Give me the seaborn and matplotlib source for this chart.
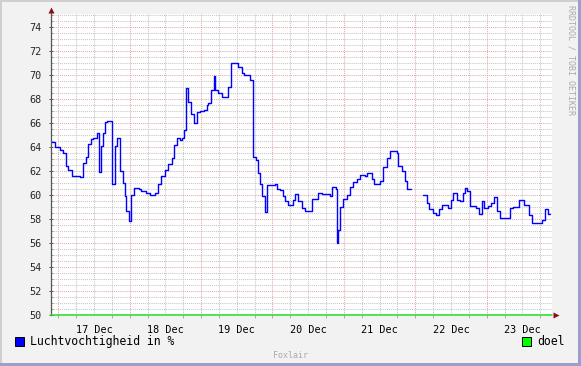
import matplotlib
matplotlib.use("Agg")
import matplotlib.pyplot as plt
from matplotlib.patches import Rectangle
from matplotlib.ticker import FixedLocator, MultipleLocator
import numpy as np
import pandas as pd
import seaborn as sns

# ---- data (hours since 17 Dec 00:00, relative humidity %) ----
hours_a = [-2.1, -1.1, 0.6, 1.7, 2.6, 3.3, 4.6, 7.3, 8.3, 9.3, 10.0, 11.0, 11.7, 13.0, 13.7,
           14.4, 15.0, 15.7, 16.5, 18.0, 18.9, 19.9, 20.7, 21.7, 22.3, 22.9, 23.6, 24.4, 25.4,
           27.1, 27.8, 29.5, 30.8, 32.5, 33.5, 34.5, 35.9, 36.9, 38.2, 38.9, 39.9, 40.9, 41.6,
           42.3, 42.9, 43.6, 44.6, 45.6, 46.6, 47.6, 49.0, 50.0, 50.3, 51.3, 52.5, 52.8, 53.7,
           55.0, 57.0, 58.2, 60.4, 61.7, 62.4, 64.4, 65.4, 66.5, 67.1, 67.8, 68.5, 69.6, 70.3,
           72.8, 73.5, 74.5, 75.5, 76.2, 77.2, 78.8, 79.6, 80.6, 81.8, 82.9, 85.2, 87.3, 88.6,
           91.3, 92.0, 93.2, 93.6, 94.1, 94.7, 95.8, 96.9, 98.0, 99.1, 100.3, 101.4, 103.1,
           103.8, 105.3, 106.1, 108.1, 109.1, 110.4, 111.5, 113.7, 114.3, 115.4, 116.5, 117.2,
           118.5]
humid_a = [64.4, 64.0, 63.8, 63.5, 62.4, 62.1, 61.6, 61.5, 62.7, 63.2, 64.3, 64.7, 64.8, 65.2, 61.9,
           64.1, 65.2, 66.1, 66.2, 60.9, 64.1, 64.8, 62.0, 61.0, 59.9, 58.7, 57.8, 60.0, 60.6,
           60.5, 60.3, 60.2, 60.0, 60.2, 60.9, 61.6, 62.1, 62.6, 63.1, 64.2, 64.8, 64.6, 64.8,
           65.4, 68.9, 67.8, 66.8, 66.0, 66.9, 67.0, 67.1, 67.5, 67.7, 68.8, 69.9, 68.8, 68.5,
           68.2, 69.0, 71.0, 70.7, 70.2, 70.0, 69.6, 63.2, 62.9, 61.8, 60.9, 59.9, 58.6, 60.8,
           60.9, 60.5, 60.4, 59.9, 59.5, 59.2, 59.6, 60.1, 59.5, 58.9, 58.7, 59.7, 60.2, 60.1,
           59.9, 60.7, 60.5, 56.0, 57.1, 59.0, 59.7, 60.0, 60.7, 61.1, 61.3, 61.7, 61.6,
           61.8, 61.3, 60.9, 61.2, 62.3, 63.1, 63.7, 63.5, 62.4, 62.0, 61.2, 60.5,
           60.5]
hours_b = [122.7, 123.8, 124.7, 125.8, 127.0, 128.1, 128.9, 131.1, 131.9, 132.8, 133.9, 135.0,
           135.9, 136.7, 137.5, 138.4, 140.4, 141.5, 142.3, 143.2, 144.3, 145.3, 146.5, 147.4,
           148.5, 151.8, 152.8, 155.0, 156.5, 158.3, 159.1, 162.5, 163.6, 164.7, 165.3]
humid_b = [60.0, 59.3, 58.8, 58.5, 58.3, 58.8, 59.2, 58.9, 59.6, 60.2, 59.6, 59.5,
           60.2, 60.6, 60.3, 59.1, 58.9, 58.4, 59.5, 58.9, 59.1, 59.3, 59.8, 58.7,
           58.1, 58.9, 59.0, 59.6, 59.2, 58.3, 57.7, 57.9, 58.8, 58.4, 58.4]
doel_value = 50.0
day_labels = ["17 Dec", "18 Dec", "19 Dec", "20 Dec", "21 Dec", "22 Dec", "23 Dec"]
y_ticks = list(range(50, 75, 2))

df = pd.DataFrame({
    "uur": hours_a + hours_b,
    "rh": humid_a + humid_b,
    "seg": ["a"] * len(hours_a) + ["b"] * len(hours_b),
})

sns.set_theme(style="white")
plt.rcParams["font.family"] = ["DejaVu Sans Mono", "DejaVu Sans"]

W, H = 581, 366
fig = plt.figure(figsize=(W / 100, H / 100), dpi=100)
fig.patch.set_facecolor("#F2F2F2")

def px(x0, y0, w, h):
    return (x0 / W, 1 - (y0 + h) / H), w / W, h / H

# 3D-like frame
for (x0, y0, w, h), c in [((0, 0, W, 2), "#CFCFCF"), ((0, 0, 2, H), "#CFCFCF"),
                          ((W - 3, 0, 3, H), "#9E9ECC"), ((0, H - 3, W, 3), "#9E9ECC")]:
    xy, ww, hh = px(x0, y0, w, h)
    fig.patches.append(Rectangle(xy, ww, hh, transform=fig.transFigure,
                                 facecolor=c, edgecolor="none", zorder=0))

L, R, T, B = 51, 552, 14, 315
ax = fig.add_axes([L / W, 1 - B / H, (R - L) / W, (B - T) / H])
ax.set_facecolor("white")

xmin, xmax = -2.45, 165.95
ymin, ymax = 50, 75.1

dot = (0, (1, 1))
# grid
for v in np.arange(50, 75.01, 0.5):
    if v % 2 != 0:
        ax.axhline(v, color="#C6C6C6", lw=0.75, ls=dot, zorder=0)
for v in np.arange(0, 166, 6):
    if v % 24 != 0:
        ax.axvline(v, color="#C6C6C6", lw=0.75, ls=dot, zorder=0)
for v in y_ticks[1:]:
    ax.axhline(v, color="#E3AAAA", lw=0.75, ls=dot, zorder=0.5)
for v in range(0, 166, 24):
    ax.axvline(v, color="#E3AAAA", lw=0.75, ls=dot, zorder=0.5)

sns.lineplot(data=df, x="uur", y="rh", units="seg", estimator=None, ax=ax,
             color="#0000FF", lw=1.0, drawstyle="steps-post", legend=False, zorder=3)

ax.axhline(doel_value, color="#22DD22", lw=1.1, zorder=4, clip_on=False)

ax.set_xlim(xmin, xmax)
ax.set_ylim(ymin, ymax)
ax.set_xlabel("")
ax.set_ylabel("")

ax.set_xticks([12 + 24 * i for i in range(len(day_labels))])
ax.set_xticklabels(day_labels)
ax.xaxis.set_minor_locator(FixedLocator(np.arange(0, 166, 6)))
ax.set_yticks(y_ticks)
ax.set_yticklabels([str(v) for v in y_ticks])
ax.yaxis.set_minor_locator(MultipleLocator(0.5))

ax.tick_params(axis="x", which="major", length=0, pad=7, labelsize=7.3, colors="#000000")
ax.tick_params(axis="x", which="minor", length=2.5, direction="out", color="#AAAAAA", width=0.7, bottom=True)
ax.tick_params(axis="y", which="major", length=3, direction="inout", pad=5, labelsize=7.3,
               color="#555555", width=0.7, left=True)
ax.tick_params(axis="y", which="minor", length=1.5, direction="in", color="#888888", width=0.6, left=True)

for s in ["top", "right", "bottom"]:
    ax.spines[s].set_visible(False)
ax.spines["left"].set_color("#555555")
ax.spines["left"].set_linewidth(0.9)
ax.spines["left"].set_bounds(ymin, ymax + 0.2)

# axis arrows
ax.plot([xmin], [75.45], marker="^", ms=4.5, color="#8B1010", clip_on=False, zorder=5, mec="none")
ax.plot([167.2], [50], marker=">", ms=4.5, color="#8B1010", clip_on=False, zorder=5, mec="none")

# legend
for (x0, c) in [(15, "#0000FF"), (522, "#00FF00")]:
    xy, ww, hh = px(x0, 337, 9, 9)
    fig.patches.append(Rectangle(xy, ww, hh, transform=fig.transFigure,
                                 facecolor=c, edgecolor="#000000", lw=0.7))
fig.text(30 / W, 1 - 341.5 / H, "Luchtvochtigheid in %", fontsize=8.3, va="center", ha="left",
         color="#000000")
fig.text(537 / W, 1 - 341.5 / H, "doel", fontsize=8.3, va="center", ha="left", color="#000000")

fig.text(290 / W, 1 - 355 / H, "Foxlair", fontsize=6, va="center", ha="center", color="#AAAAAA")
fig.text(571.5 / W, 1 - 60 / H, "RRDTOOL / TOBI OETIKER", fontsize=6, va="center", ha="center",
         rotation=270, color="#AAAAAA")

fig.savefig("out.png", dpi=100, facecolor=fig.get_facecolor())
